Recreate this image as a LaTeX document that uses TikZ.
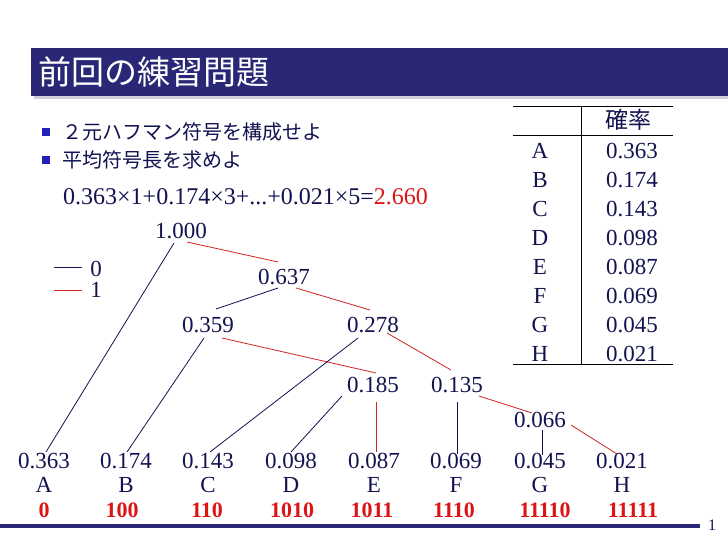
\documentclass[tikz,border=0pt]{standalone}
\usepackage{fontspec}
\setmainfont{Liberation Serif}
\newfontfamily\jp{Noto Sans CJK JP}
\usetikzlibrary{calc}
\definecolor{navy}{RGB}{42,40,118}
\definecolor{ink}{RGB}{18,18,80}
\definecolor{redline}{RGB}{205,35,35}
\definecolor{redcode}{RGB}{220,20,20}
\definecolor{bulletc}{RGB}{35,35,185}
\definecolor{shadowc}{RGB}{205,205,222}
\tikzset{
  num/.style={font=\fontsize{23}{27}\selectfont, text=ink, inner sep=0pt},
  codetxt/.style={font=\fontsize{22}{26}\selectfont\bfseries, text=redcode, inner sep=0pt},
  zero/.style={draw=ink, line width=0.8pt},
  one/.style={draw=redline, line width=0.8pt},
  rule/.style={draw=black, line width=0.8pt},
  jptxt/.style={font=\jp\fontsize{20}{24}\selectfont, text=ink, inner sep=0pt},
  bulletbox/.style={fill=bulletc, minimum size=8pt, inner sep=0pt},
}
\begin{document}
\begin{tikzpicture}[x=1pt,y=-1pt]
\useasboundingbox (0,0) rectangle (728,546);
% title bar
\fill[shadowc] (34,51) rectangle (728,99);
\fill[navy] (31,48) rectangle (728,96);
\node[anchor=west, text=white, font=\jp\fontsize{33}{37}\selectfont, inner sep=0pt] (title) at (38,72) {前回の練習問題};
% bullets
\node[bulletbox] (b1) at (46,132) {};
\node[jptxt, anchor=west] (t1) at (62,132) {２元ハフマン符号を構成せよ};
\node[bulletbox] (b2) at (46,160) {};
\node[jptxt, anchor=west] (t2) at (62,160) {平均符号長を求めよ};
\node[num, anchor=west, font=\fontsize{24}{28}\selectfont] (formula) at (63,197) {0.363×1+0.174×3+...+0.021×5=\textcolor{redcode}{2.660}};
% table
\draw[rule] (513,106) -- (673,106);
\draw[rule] (513,135) -- (673,135);
\draw[rule] (513,364) -- (673,364);
\draw[rule] (581,106) -- (581,364);
\node[jptxt, font=\jp\fontsize{23}{27}\selectfont] (hdr) at (628,120) {確率};
\foreach \L/\V [count=\i from 0] in {A/0.363,B/0.174,C/0.143,D/0.098,E/0.087,F/0.069,G/0.045,H/0.021}{
  \node[num] (r\L) at (540,151+29*\i) {\L};
  \node[num] (v\L) at (632,151+29*\i) {\V};
}
% legend
\coordinate (k0a) at (54,267); \coordinate (k0b) at (82,267);
\coordinate (k1a) at (54,290); \coordinate (k1b) at (82,290);
\draw[zero] (k0a) -- (k0b);
\draw[one] (k1a) -- (k1b);
\node[num] (k0) at (96,269) {0};
\node[num] (k1) at (96,290) {1};
% internal nodes
\node[num] (n1000) at (181,231) {1.000};
\node[num] (n637) at (284,277) {0.637};
\node[num] (n359) at (208,325) {0.359};
\node[num] (n278) at (373,325) {0.278};
\node[num] (n185) at (373,385) {0.185};
\node[num] (n135) at (457,385) {0.135};
\node[num] (n066) at (540,420) {0.066};
% leaves
\foreach \L/\V/\C/\X/\CX in {A/0.363/0/44/44,B/0.174/100/126/122,C/0.143/110/208/207,D/0.098/1010/291/292,E/0.087/1011/374/372,F/0.069/1110/456/454,G/0.045/11110/540/545,H/0.021/11111/622/633}{
  \node[num] (l\L) at (\X,461) {\V};
  \node[num] (s\L) at (\X,485) {\L};
  \node[codetxt] (c\L) at (\CX,510) {\C};
}
% edges
\draw[zero] ($(n1000)+(-7,12)$) -- ($(lA)+(2,-9)$);
\draw[one]  ($(n1000)+(6,11)$) -- ($(n637)+(-6,-15)$);
\draw[zero] ($(n637)+(-6,11)$) -- ($(n359)+(8,-16)$);
\draw[one]  ($(n637)+(12,11)$) -- ($(n278)+(-3,-15)$);
\draw[zero] ($(n359)+(-4,13)$) -- ($(lB)+(1,-9)$);
\draw[one]  ($(n359)+(14,13)$) -- ($(n185)+(3,-12)$);
\draw[zero] ($(n278)+(-15,13)$) -- ($(lC)+(2,-9)$);
\draw[one]  ($(n278)+(14,8)$) -- ($(n135)+(-6,-15)$);
\draw[zero] ($(n185)+(-31,11)$) -- ($(lD)+(0,-9)$);
\draw[one]  ($(n185)+(3,17)$) -- ($(lE)+(2,-9)$);
\draw[zero] ($(n135)+(0,17)$) -- ($(lF)+(1,-7)$);
\draw[one]  ($(n135)+(22,11)$) -- ($(n066)+(-8,-7)$);
\draw[zero] ($(n066)+(2,10)$) -- ($(lG)+(2,-6)$);
\draw[one]  ($(n066)+(31,5)$) -- ($(lH)+(-5,-7)$);
% bottom rule
\coordinate (f0) at (0,526); \coordinate (f1) at (700,526);
\draw[navy, line width=3.5pt] (f0) -- (f1);
\node[num, font=\fontsize{16}{18}\selectfont] (pg) at (712,525) {1};
\end{tikzpicture}
\end{document}
